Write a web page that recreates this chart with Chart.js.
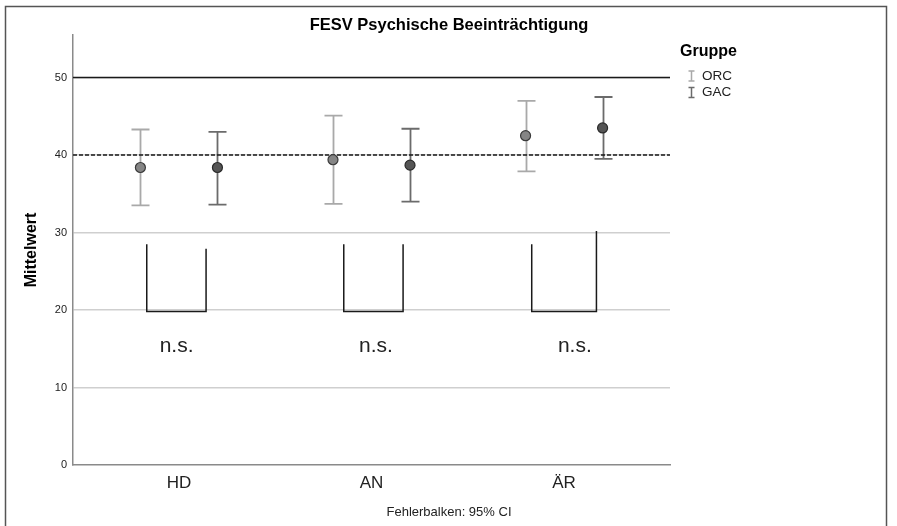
<!DOCTYPE html>
<html>
<head>
<meta charset="utf-8">
<script src="https://cdn.jsdelivr.net/npm/chart.js@4.4.1/dist/chart.umd.min.js"></script>
<style>
    body { margin: 0; background: #fff; }
    #wrap { width: 897px; height: 526px; }
</style>
</head>
<body>
<div id="wrap"><canvas id="chart" width="897" height="526"></canvas></div>
<script>
// Kategorien und Gruppen
const categories = ['HD', 'AN', 'ÄR'];
const groups = ['ORC', 'GAC'];

// Mittelwerte und 95%-KI
const orcMean = [38.4, 39.4, 42.5];
const orcLow = [33.5, 33.7, 37.9];
const orcHigh = [43.3, 45.1, 47.0];
const gacMean = [38.4, 38.7, 43.5];
const gacLow = [33.6, 34.0, 39.5];
const gacHigh = [43.0, 43.4, 47.5];

// Referenzlinien
const refSolid = 50;
const refDashed = 40;

// Signifikanz-Klammern (n.s.)
const bracketLeft = [-0.167, -0.144, -0.168];
const bracketRight = [0.141, 0.164, 0.168];
const bracketTopLeft = [28.5, 28.5, 28.5];
const bracketTopRight = [27.9, 28.5, 30.2];
const bracketBottom = [19.8, 19.8, 19.8];
const sigLabels = ['n.s.', 'n.s.', 'n.s.'];
const sigLabelX = [-0.012, 0.023, 0.056];
const sigLabelY = 15.3;

const groupOffset = [-0.2, 0.2];
const FONT = "'Liberation Sans', Arial, sans-serif";

const colors = {
    orcBar: '#a9a9a9',
    orcPoint: '#858585',
    gacBar: '#6b6b6b',
    gacPoint: '#555555',
    grid: '#cfcfcf',
    axis: '#8a8a8a',
    ink: '#1a1a1a'
};

function groupPoints(means, gi) {
    return means.map((m, i) => ({ x: i + 1 + groupOffset[gi], y: m }));
}

const bracketSets = categories.map((c, i) => ({
    type: 'line',
    label: 'bracket ' + c,
    data: [
        { x: i + 1 + bracketLeft[i], y: bracketTopLeft[i] },
        { x: i + 1 + bracketLeft[i], y: bracketBottom[i] },
        { x: i + 1 + bracketRight[i], y: bracketBottom[i] },
        { x: i + 1 + bracketRight[i], y: bracketTopRight[i] }
    ],
    showLine: true,
    borderColor: colors.ink,
    borderWidth: 1.5,
    pointRadius: 0,
    fill: false,
    tension: 0
}));

// Fehlerbalken, Referenzlinien und Texte
const spssPlugin = {
    id: 'spss',
    beforeDatasetsDraw(chart) {
        const ctx = chart.ctx;
        const xs = chart.scales.x, ys = chart.scales.y;
        const area = chart.chartArea;
        ctx.save();
        // Fehlerbalken
        const bars = [
            { low: orcLow, high: orcHigh, color: colors.orcBar, gi: 0 },
            { low: gacLow, high: gacHigh, color: colors.gacBar, gi: 1 }
        ];
        bars.forEach(b => {
            ctx.strokeStyle = b.color;
            ctx.lineWidth = 1.8;
            b.low.forEach((lo, i) => {
                const px = Math.round(xs.getPixelForValue(i + 1 + groupOffset[b.gi])) + 0.5;
                const yl = ys.getPixelForValue(lo), yh = ys.getPixelForValue(b.high[i]);
                ctx.beginPath();
                ctx.moveTo(px, yl); ctx.lineTo(px, yh);
                ctx.moveTo(px - 9, yl); ctx.lineTo(px + 9, yl);
                ctx.moveTo(px - 9, yh); ctx.lineTo(px + 9, yh);
                ctx.stroke();
            });
        });
        // Referenzlinien
        ctx.strokeStyle = colors.ink;
        ctx.lineWidth = 1.5;
        let y = ys.getPixelForValue(refSolid);
        ctx.beginPath(); ctx.moveTo(area.left, y); ctx.lineTo(area.right, y); ctx.stroke();
        y = ys.getPixelForValue(refDashed);
        ctx.setLineDash([4, 2]);
        ctx.beginPath(); ctx.moveTo(area.left, y); ctx.lineTo(area.right, y); ctx.stroke();
        ctx.setLineDash([]);
        ctx.restore();
    },
    afterDraw(chart) {
        const ctx = chart.ctx;
        const xs = chart.scales.x, ys = chart.scales.y;
        const area = chart.chartArea;
        ctx.save();
        // Rahmen
        ctx.strokeStyle = '#555';
        ctx.lineWidth = 1.5;
        ctx.strokeRect(5.5, 6.5, 881, 530);
        // Titel
        ctx.fillStyle = '#000';
        ctx.textAlign = 'center';
        ctx.textBaseline = 'alphabetic';
        ctx.font = 'bold 16.5px ' + FONT;
        ctx.fillText('FESV Psychische Beeinträchtigung', 449, 30);
        // y-Achsentitel
        ctx.save();
        ctx.translate(32, (area.top + area.bottom) / 2);
        ctx.rotate(-Math.PI / 2);
        ctx.textBaseline = 'middle';
        ctx.font = 'bold 16px ' + FONT;
        ctx.fillText('Mittelwert', 0, 0);
        ctx.restore();
        // n.s.
        ctx.fillStyle = '#222';
        ctx.textBaseline = 'middle';
        ctx.font = '21px ' + FONT;
        sigLabels.forEach((t, i) => {
            ctx.fillText(t, xs.getPixelForValue(i + 1 + sigLabelX[i]), ys.getPixelForValue(sigLabelY));
        });
        // Fußnote
        ctx.font = '13px ' + FONT;
        ctx.fillStyle = '#222';
        ctx.fillText('Fehlerbalken: 95% CI', 449, 512);
        // Legende
        ctx.textAlign = 'left';
        ctx.fillStyle = '#000';
        ctx.font = 'bold 16px ' + FONT;
        ctx.fillText('Gruppe', 680, 52);
        ctx.font = '13.5px ' + FONT;
        const legColors = [colors.orcBar, colors.gacBar];
        groups.forEach((g, i) => {
            const cy = 76 + i * 16.5;
            ctx.strokeStyle = legColors[i];
            ctx.lineWidth = 1.5;
            ctx.beginPath();
            ctx.moveTo(691.5, cy - 5); ctx.lineTo(691.5, cy + 5);
            ctx.moveTo(688.5, cy - 5); ctx.lineTo(694.5, cy - 5);
            ctx.moveTo(688.5, cy + 5); ctx.lineTo(694.5, cy + 5);
            ctx.stroke();
            ctx.fillStyle = '#222';
            ctx.fillText(g, 702, cy);
        });
        ctx.restore();
    }
};

new Chart(document.getElementById('chart').getContext('2d'), {
    type: 'scatter',
    data: {
        datasets: [
            ...bracketSets,
            {
                label: groups[0],
                data: groupPoints(orcMean, 0),
                pointRadius: 5,
                pointBackgroundColor: colors.orcPoint,
                pointBorderColor: '#3a3a3a',
                pointBorderWidth: 1.2
            },
            {
                label: groups[1],
                data: groupPoints(gacMean, 1),
                pointRadius: 5,
                pointBackgroundColor: colors.gacPoint,
                pointBorderColor: '#2a2a2a',
                pointBorderWidth: 1.2
            }
        ]
    },
    options: {
        responsive: false,
        animation: false,
        layout: { padding: { left: 0, top: 35, right: 227, bottom: 0 } },
        plugins: {
            legend: { display: false },
            tooltip: { enabled: false },
            title: { display: false }
        },
        scales: {
            x: {
                type: 'linear',
                min: 0.45,
                max: 3.55,
                grid: { display: false, drawTicks: false },
                border: { color: colors.axis, width: 1.5 },
                ticks: {
                    stepSize: 1,
                    includeBounds: false,
                    padding: 8,
                    color: '#222',
                    font: { family: FONT, size: 17 },
                    callback: v => categories[v - 1] || ''
                },
                afterFit: s => { s.height = 61; }
            },
            y: {
                min: 0,
                max: 55.5,
                grid: {
                    drawTicks: false,
                    lineWidth: 1.5,
                    color: c => (c.tick && c.tick.value > 0 ? colors.grid : 'rgba(0,0,0,0)')
                },
                border: { color: colors.axis, width: 1.5 },
                ticks: {
                    stepSize: 10,
                    includeBounds: false,
                    padding: 6,
                    color: '#222',
                    font: { family: FONT, size: 11 }
                },
                afterFit: s => { s.width = 73; }
            }
        }
    },
    plugins: [spssPlugin]
});
</script>
</body>
</html>
